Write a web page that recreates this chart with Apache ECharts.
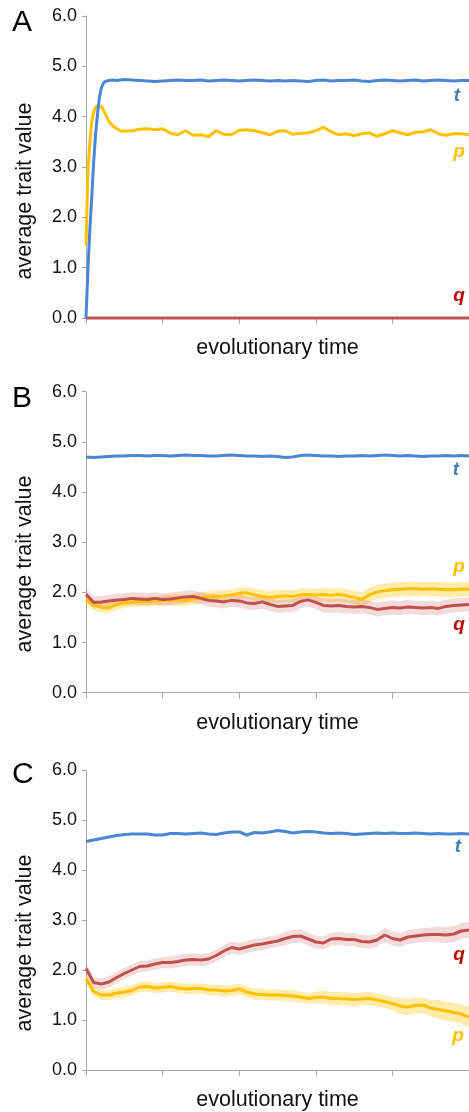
<!DOCTYPE html>
<html>
<head>
<meta charset="utf-8">
<script src="https://cdn.jsdelivr.net/npm/echarts@6/dist/echarts.min.js"></script>
<style>
html,body{margin:0;padding:0;background:#fff;}
#chart{width:469px;height:1112px;}
</style>
</head>
<body>
<div id="chart"></div>
<script>
// ---------- DATA ----------
const yTicks = [0, 1, 2, 3, 4, 5, 6];
const xTickStep = 20;

// Panel A
const timeA = [0,0.5,1,1.5,2,2.5,3,3.5,4,4.5,5,6,7,8,9,10,12,14,16,18,20,22,24,26,28,30,32,34,36,38,40,42,44,46,48,50,52,54,56,58,60,62,64,66,68,70,72,74,76,78,80,82,84,86,88,90,92,94,96,98,100];
const tA = [0,0.95,1.75,2.4,3.1,3.65,4.05,4.38,4.57,4.66,4.70,4.72,4.73,4.72,4.73,4.74,4.73,4.72,4.71,4.70,4.71,4.72,4.73,4.72,4.72,4.73,4.71,4.72,4.73,4.72,4.71,4.72,4.73,4.72,4.71,4.72,4.71,4.72,4.71,4.70,4.72,4.73,4.71,4.72,4.72,4.73,4.71,4.70,4.72,4.73,4.72,4.71,4.72,4.73,4.71,4.72,4.73,4.72,4.71,4.72,4.72];
const pA = [1.45,2.9,3.5,3.9,4.1,4.18,4.22,4.22,4.2,4.14,4.06,3.9,3.82,3.76,3.72,3.71,3.72,3.75,3.76,3.74,3.76,3.67,3.64,3.72,3.63,3.64,3.60,3.72,3.65,3.64,3.73,3.74,3.72,3.68,3.64,3.71,3.72,3.65,3.67,3.68,3.72,3.79,3.70,3.64,3.66,3.62,3.66,3.68,3.61,3.66,3.72,3.68,3.64,3.69,3.70,3.74,3.66,3.63,3.66,3.66,3.64];
const timeAq = [0, 100];
const qA = [0, 0];

// Panels B and C share the time grid
const timeBC = [0,2,4,6,8,10,12,14,16,18,20,22,24,26,28,30,32,34,36,38,40,42,44,46,48,50,52,54,56,58,60,62,64,66,68,70,72,74,76,78,80,82,84,86,88,90,92,94,96,98,100];

// Panel B
const tB = [4.70,4.69,4.70,4.71,4.72,4.72,4.73,4.73,4.72,4.73,4.73,4.72,4.73,4.74,4.73,4.73,4.72,4.72,4.73,4.74,4.73,4.72,4.72,4.71,4.72,4.71,4.69,4.70,4.73,4.74,4.73,4.72,4.72,4.71,4.72,4.72,4.73,4.72,4.73,4.74,4.73,4.72,4.73,4.72,4.71,4.72,4.72,4.73,4.72,4.73,4.72];
const pB = [1.85,1.75,1.70,1.69,1.76,1.79,1.81,1.82,1.82,1.83,1.84,1.85,1.85,1.84,1.87,1.90,1.91,1.92,1.93,1.95,1.98,1.99,1.95,1.92,1.90,1.92,1.93,1.92,1.95,1.96,1.95,1.96,1.94,1.96,1.93,1.90,1.86,1.95,2.01,2.03,2.05,2.06,2.07,2.07,2.06,2.07,2.06,2.05,2.05,2.06,2.06];
const qB = [1.96,1.80,1.81,1.83,1.85,1.86,1.88,1.87,1.86,1.88,1.86,1.87,1.89,1.91,1.92,1.88,1.84,1.83,1.81,1.84,1.83,1.79,1.78,1.81,1.76,1.72,1.73,1.74,1.82,1.85,1.80,1.74,1.73,1.74,1.72,1.71,1.72,1.70,1.66,1.68,1.70,1.69,1.71,1.70,1.69,1.70,1.68,1.72,1.74,1.75,1.76];
const pBandB = [0.10,0.10,0.10,0.10,0.10,0.10,0.10,0.10,0.10,0.10,0.10,0.11,0.11,0.11,0.11,0.11,0.11,0.11,0.11,0.11,0.11,0.12,0.12,0.12,0.12,0.12,0.12,0.12,0.12,0.12,0.12,0.13,0.13,0.13,0.13,0.13,0.14,0.14,0.14,0.14,0.14,0.14,0.14,0.14,0.14,0.14,0.14,0.14,0.14,0.14,0.14];
const qBandB = [0.12,0.12,0.12,0.12,0.12,0.12,0.12,0.12,0.12,0.12,0.12,0.12,0.12,0.12,0.12,0.12,0.13,0.13,0.13,0.13,0.13,0.13,0.13,0.13,0.13,0.13,0.13,0.13,0.13,0.13,0.13,0.14,0.14,0.14,0.14,0.14,0.14,0.14,0.14,0.14,0.14,0.14,0.14,0.14,0.14,0.14,0.14,0.14,0.14,0.14,0.14];

// Panel C
const tC = [4.57,4.60,4.63,4.66,4.69,4.71,4.72,4.72,4.72,4.70,4.70,4.73,4.73,4.72,4.73,4.74,4.72,4.71,4.74,4.76,4.76,4.70,4.75,4.74,4.76,4.79,4.77,4.74,4.76,4.77,4.76,4.74,4.73,4.74,4.73,4.71,4.72,4.73,4.74,4.73,4.74,4.73,4.73,4.74,4.73,4.72,4.73,4.72,4.72,4.73,4.72];
const qC = [2.03,1.75,1.72,1.76,1.85,1.93,2.00,2.07,2.08,2.12,2.15,2.15,2.17,2.20,2.21,2.20,2.22,2.29,2.38,2.45,2.42,2.46,2.50,2.52,2.55,2.58,2.63,2.67,2.68,2.62,2.56,2.54,2.62,2.63,2.61,2.61,2.57,2.56,2.60,2.70,2.63,2.60,2.66,2.68,2.70,2.71,2.71,2.70,2.72,2.78,2.80];
const pC = [1.83,1.57,1.50,1.50,1.54,1.56,1.59,1.66,1.67,1.64,1.65,1.67,1.64,1.62,1.63,1.63,1.60,1.60,1.58,1.59,1.62,1.56,1.52,1.51,1.50,1.50,1.49,1.48,1.46,1.43,1.45,1.46,1.43,1.43,1.42,1.41,1.42,1.43,1.40,1.37,1.33,1.28,1.26,1.29,1.30,1.24,1.21,1.18,1.15,1.12,1.06];
const qBandC = [0.11,0.11,0.11,0.11,0.11,0.11,0.11,0.11,0.11,0.11,0.11,0.12,0.12,0.12,0.12,0.12,0.12,0.12,0.12,0.12,0.12,0.12,0.12,0.12,0.12,0.12,0.13,0.13,0.13,0.13,0.13,0.13,0.13,0.13,0.13,0.13,0.13,0.13,0.13,0.14,0.14,0.14,0.14,0.14,0.14,0.14,0.16,0.16,0.16,0.16,0.16];
const pBandC = [0.10,0.10,0.10,0.10,0.10,0.10,0.10,0.10,0.10,0.10,0.10,0.10,0.10,0.10,0.10,0.10,0.11,0.11,0.11,0.11,0.11,0.11,0.11,0.11,0.11,0.11,0.11,0.11,0.11,0.11,0.11,0.13,0.13,0.13,0.13,0.13,0.13,0.13,0.13,0.13,0.13,0.16,0.16,0.16,0.16,0.16,0.19,0.19,0.19,0.19,0.21];

const panelLetters = ['A', 'B', 'C'];
const yAxisTitle = 'average trait value';
const xAxisTitle = 'evolutionary time';

// ---------- STYLE ----------
const FONT = "'Liberation Sans', Arial, sans-serif";
const C_T = '#4a86d6', C_P = '#ffc000', C_Q = '#c0504d';
const L_T = '#4a7ebb', L_P = '#ffc000', L_Q = '#c00000';
const BAND_P = 'rgba(255,200,20,0.36)', BAND_Q = 'rgba(200,90,90,0.22)';
const grids = [
  {left: 86, top: 16, width: 384, height: 302},
  {left: 86, top: 391.7, width: 384, height: 301},
  {left: 86, top: 770, width: 384, height: 301.7}
];

function pairs(ts, vs){ return ts.map((t, i) => [t, vs[i]]); }

const xAxes = grids.map((g, i) => ({
  type: 'value', gridIndex: i, min: 0, max: 100, interval: xTickStep,
  axisLine: {show: true, lineStyle: {color: '#a8a8a8', width: 1}},
  axisTick: {show: true, length: 6, lineStyle: {color: '#a8a8a8'}},
  axisLabel: {show: false}, splitLine: {show: false},
  name: xAxisTitle, nameLocation: 'middle', nameGap: 19,
  nameTextStyle: {fontFamily: FONT, fontSize: 21.5, color: '#111'}
}));
const yAxes = grids.map((g, i) => ({
  type: 'value', gridIndex: i, min: yTicks[0], max: yTicks[yTicks.length-1], interval: 1,
  axisLine: {show: true, lineStyle: {color: '#a8a8a8', width: 1}},
  axisTick: {show: true, length: 4, lineStyle: {color: '#a8a8a8'}},
  axisLabel: {show: true, margin: 9, fontFamily: FONT, fontSize: 18, color: '#111', formatter: v => v.toFixed(1)},
  splitLine: {show: false}
}));

function lineSeries(idx, ts, vs, color, z){
  return {type: 'line', xAxisIndex: idx, yAxisIndex: idx, data: pairs(ts, vs), showSymbol: false, symbol: 'none',
    lineStyle: {color: color, width: 3}, z: z, silent: true, animation: false, clip: false};
}
function bandSeries(idx, ts, vs, bs, fill){
  return {type: 'custom', xAxisIndex: idx, yAxisIndex: idx, data: [[0, 0]], silent: true, z: 1, animation: false,
    renderItem: function(params, api){
      const pts = [];
      for (let i = 0; i < ts.length; i++) pts.push(api.coord([ts[i], vs[i] + bs[i]]));
      for (let i = ts.length - 1; i >= 0; i--) pts.push(api.coord([ts[i], vs[i] - bs[i]]));
      return {type: 'polygon', shape: {points: pts}, style: {fill: fill}};
    }};
}

const series = [
  lineSeries(0, timeA, pA, C_P, 3),
  lineSeries(0, timeAq, qA, C_Q, 4),
  lineSeries(0, timeA, tA, C_T, 5),
  bandSeries(1, timeBC, pB, pBandB, BAND_P),
  bandSeries(1, timeBC, qB, qBandB, BAND_Q),
  lineSeries(1, timeBC, pB, C_P, 3),
  lineSeries(1, timeBC, qB, C_Q, 4),
  lineSeries(1, timeBC, tB, C_T, 5),
  bandSeries(2, timeBC, pC, pBandC, BAND_P),
  bandSeries(2, timeBC, qC, qBandC, BAND_Q),
  lineSeries(2, timeBC, pC, C_P, 3),
  lineSeries(2, timeBC, qC, C_Q, 4),
  lineSeries(2, timeBC, tC, C_T, 5)
];

function txt(x, y, s, opts){
  return Object.assign({type: 'text', x: x, y: y, silent: true, z: 100,
    style: Object.assign({text: s, fontFamily: FONT, textAlign: 'center', textVerticalAlign: 'middle'}, opts.style)},
    opts.extra || {});
}
const letterY = [23, 399, 775];
const yTitleY = [191, 564, 943];
const seriesLabels = [
  [['t', 457, 96, L_T], ['p', 459, 152, L_P], ['q', 459, 296, L_Q]],
  [['t', 456, 470, L_T], ['p', 459, 567, L_P], ['q', 459, 625, L_Q]],
  [['t', 458, 847, L_T], ['q', 459, 955, L_Q], ['p', 458, 1036, L_P]]
];
const graphics = [];
panelLetters.forEach((L, i) => {
  graphics.push(txt(12, letterY[i], L, {style: {fontSize: 30, fill: '#000', textAlign: 'left'}}));
  graphics.push(txt(25.5, yTitleY[i], yAxisTitle, {style: {fontSize: 21.5, fill: '#111'}, extra: {rotation: Math.PI / 2}}));
  seriesLabels[i].forEach(s => graphics.push(txt(s[1], s[2], s[0], {style: {fontSize: 19, fontWeight: 'bold', fontStyle: 'italic', fill: s[3]}})));
});

const chart = echarts.init(document.getElementById('chart'), null, {renderer: 'canvas'});
chart.setOption({
  animation: false,
  backgroundColor: '#fff',
  grid: grids,
  xAxis: xAxes,
  yAxis: yAxes,
  series: series,
  graphic: graphics
});
</script>
</body>
</html>
